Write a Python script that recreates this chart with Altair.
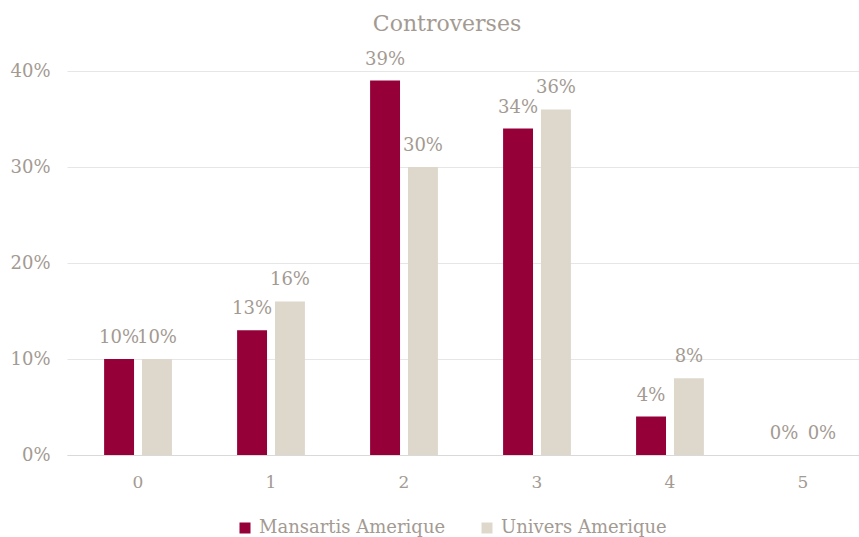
import altair as alt
import pandas as pd

categories = ["0", "1", "2", "3", "4", "5"]
mansartis = [0.10, 0.13, 0.39, 0.34, 0.04, 0.00]
univers = [0.10, 0.16, 0.30, 0.36, 0.08, 0.00]
series_names = ["Mansartis Amerique", "Univers Amerique"]
colors = ["#950039", "#DED7CC"]
y_ticks = [0, 0.1, 0.2, 0.3, 0.4]

rows = []
for c, a, b in zip(categories, mansartis, univers):
    rows.append({"cat": c, "series": series_names[0], "value": a})
    rows.append({"cat": c, "series": series_names[1], "value": b})
df = pd.DataFrame(rows)

FONT = "Georgia, 'DejaVu Serif', serif"
GRAY = "#A39A92"

x_enc = alt.X("cat:N", sort=categories, title=None,
              scale=alt.Scale(range=[0, 807], paddingInner=0.49, paddingOuter=0.279),
              axis=alt.Axis(labelAngle=0, ticks=False, domainColor="#D9D9D9",
                            labelPadding=19, labelFontSize=17, labelColor=GRAY,
                            labelFont=FONT, grid=False))
y_enc = alt.Y("value:Q", title=None,
              scale=alt.Scale(domain=[0, 0.4]),
              axis=alt.Axis(values=y_ticks, format=".0%", domain=False, ticks=False,
                            labelPadding=17, labelFontSize=18, labelColor=GRAY,
                            labelFont=FONT, gridColor="#E6E6E6"))
xo = alt.XOffset("series:N", sort=series_names,
                 scale=alt.Scale(paddingInner=0.21, paddingOuter=0))

bars = alt.Chart(df).mark_bar().encode(
    x=x_enc, y=y_enc, xOffset=xo,
    color=alt.Color("series:N", sort=series_names,
                    scale=alt.Scale(domain=series_names, range=colors),
                    legend=alt.Legend(title=None, orient="none", direction="horizontal",
                                      legendX=169, legendY=448,
                                      symbolType="square", symbolSize=121,
                                      symbolStrokeWidth=0, labelFontSize=18,
                                      labelFont=FONT, labelColor=GRAY, labelLimit=400,
                                      labelOffset=5, columnPadding=32)),
)

labels = alt.Chart(df).mark_text(baseline="bottom", dy=-12, fontSize=18,
                                 font=FONT, color=GRAY).encode(
    x=alt.X("cat:N", sort=categories), y="value:Q", xOffset=alt.XOffset("series:N", sort=series_names),
    text=alt.Text("value:Q", format=".0%"),
)

chart = alt.layer(bars, labels).properties(
    width=792, height=384,
    title=alt.Title("Controverses", fontSize=22, font=FONT, color=GRAY,
                    fontWeight="normal", dx=-16, offset=15),
    autosize=alt.AutoSizeParams(type="none"),
    padding={"left": 67, "top": 71, "right": 0, "bottom": 82},
).configure_view(stroke=None)

chart.save("out.html", embed_options={"renderer": "svg", "actions": False})
